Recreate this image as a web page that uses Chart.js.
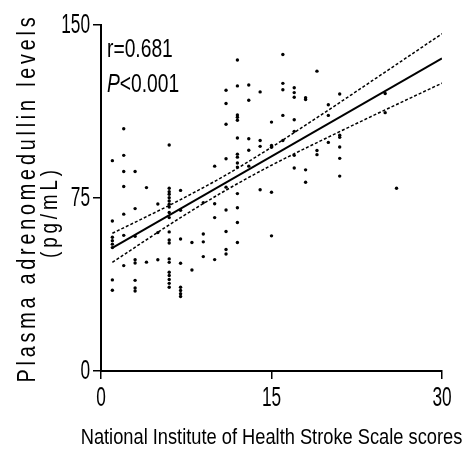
<!DOCTYPE html>
<html><head><meta charset="utf-8">
<script src="https://cdn.jsdelivr.net/npm/chart.js@4"></script>
<style>html,body{margin:0;padding:0;background:#fff}</style>
</head><body>
<canvas id="c" width="464" height="450"></canvas>
<script>
// Scatter data: NIHSS score (x) and plasma adrenomedullin (y)
const nihssScores = [
  1,1,1,1,1,1,1,1,
  2,2,2,2,2,2,2,
  3,3,3,3,3,3,3,3,
  4,4,
  5,5,5,
  6,6,6,6,6,6,6,6,6,6,6,6,6,6,6,6,6,6,6,6,
  7,7,7,7,7,7,7,7,
  8,8,
  9,9,9,9,
  10,10,10,10,
  11,11,11,11,11,11,11,11,11,
  12,12,12,12,12,12,12,12,12,12,12,12,12,12,
  13,13,13,13,13,
  14,14,14,14,
  15,15,15,15,15,
  16,16,16,16,16,
  17,17,17,17,17,17,17,
  18,18,18,18,
  19,19,19,
  20,20,20,
  21,21,21,21,21,21,
  25,25,
  26
];
const admLevels = [
  91.2,65,58,56.5,55,53.5,39.5,35,
  105,93.5,86.5,80,68,58.8,45.7,
  86.5,70.4,58.4,48.2,46.8,39.3,36,34.7,
  79.5,47.2,
  72.4,60,48.2,
  98,79.2,77.7,76.6,75.1,73.7,72.3,71.1,68.7,66.5,60.3,56.8,55.5,48.6,47.1,42.8,41.4,39.7,38,36.3,
  78.3,69.7,57.2,46.7,36.3,34.9,33.5,32.3,
  55.7,43.8,
  73,59.4,56,49.6,
  88.8,72.5,66.5,48.3,
  121.7,116,107,92,79.7,69.8,60.5,52.7,50.7,
  134.8,123.6,111,110,108.7,101,94,92.7,90.2,88.4,76.9,70.8,64.4,55.7,
  124,117.4,100.7,95.7,88.8,
  121,99.9,97.4,78.6,
  107.9,97.8,97,77.5,58.6,
  137.2,124.7,121.9,110.8,99.9,
  122.8,120.7,118.7,108.9,103.9,93.5,88,
  118.5,117.7,87.2,81.8,
  130,95.6,93.8,
  115.4,110.8,99.1,
  120.1,102.2,101.3,97.1,92.2,84.5,
  120.3,112,
  79.2
];
// Regression line end points
const fitX = [1, 30];
const fitY = [53.4, 135.5];
// 95% confidence band, read at several scores
const bandX = [1, 4, 7, 11, 15, 20, 25, 30];
const bandUpper = [59.7, 66.9, 74.3, 85.0, 97.0, 113.1, 129.6, 146.2];
const bandLower = [47.1, 56.9, 66.5, 78.4, 89.2, 101.4, 113.2, 124.8];
const xTicks = [0, 15, 30];
const yTicks = [0, 75, 150];
const statR = 'r=0.681';
const statPItalic = 'P';
const statP = '<0.001';
const xTitle = 'National Institute of Health Stroke Scale scores';
const yTitle1 = 'Plasma adrenomedullin levels';
const yTitle2 = '(pg/mL)';

const FONT = '"Liberation Sans",Arimo,Arial,sans-serif';

const pts = nihssScores.map((x, i) => ({x, y: admLevels[i]}));
const fit = fitX.map((x, i) => ({x, y: fitY[i]}));
const up = bandX.map((x, i) => ({x, y: bandUpper[i]}));
const lo = bandX.map((x, i) => ({x, y: bandLower[i]}));

// draw text condensed horizontally (narrow look of the original)
function narrowText(ctx, text, x, y, o) {
  ctx.save();
  ctx.translate(x, y);
  if (o.rotate) ctx.rotate(o.rotate);
  ctx.scale(o.h, 1);
  ctx.font = (o.italic ? 'italic ' : '') + o.size + 'px ' + FONT;
  ctx.fillStyle = '#000';
  ctx.textAlign = o.align || 'left';
  ctx.textBaseline = o.baseline || 'alphabetic';
  ctx.letterSpacing = (o.spacing || 0) + 'px';
  ctx.fillText(text, 0, 0);
  const w = ctx.measureText(text).width * o.h;
  ctx.restore();
  return w;
}

const textPlugin = {
  id: 'texts',
  afterDraw(chart) {
    const ctx = chart.ctx;
    const xs = chart.scales.x, ys = chart.scales.y;
    // tick labels from the library's scales
    xs.ticks.forEach(t => {
      narrowText(ctx, String(t.value), xs.getPixelForValue(t.value), 399, {size: 27, h: 0.64, align: 'center', baseline: 'middle'});
    });
    ys.ticks.forEach(t => {
      narrowText(ctx, String(t.value), 90, ys.getPixelForValue(t.value) + 1, {size: 27, h: 0.64, align: 'right', baseline: 'middle'});
    });
    // statistics
    narrowText(ctx, statR, 107, 57, {size: 26, h: 0.74});
    const wp = narrowText(ctx, statPItalic, 107, 92, {size: 26, h: 0.74, italic: true});
    narrowText(ctx, statP, 107 + wp, 92, {size: 26, h: 0.74});
    // axis titles
    narrowText(ctx, xTitle, (chart.chartArea.left + chart.chartArea.right) / 2, 444, {size: 22, h: 0.83, align: 'center'});
    narrowText(ctx, yTitle1, 35, 198, {size: 26, h: 0.76, align: 'center', rotate: -Math.PI / 2, spacing: 5});
    narrowText(ctx, yTitle2, 57, 212, {size: 24, h: 0.78, align: 'center', rotate: -Math.PI / 2, spacing: 5});
  }
};

new Chart(document.getElementById('c'), {
  type: 'scatter',
  data: {
    datasets: [
      {data: pts, pointRadius: 1.7, pointBackgroundColor: '#000', pointBorderWidth: 0, showLine: false},
      {data: fit, showLine: true, borderColor: '#000', borderWidth: 2, pointRadius: 0},
      {data: up, showLine: true, borderColor: '#000', borderWidth: 1.5, borderDash: [3, 2], pointRadius: 0, cubicInterpolationMode: 'monotone'},
      {data: lo, showLine: true, borderColor: '#000', borderWidth: 1.5, borderDash: [3, 2], pointRadius: 0, cubicInterpolationMode: 'monotone'}
    ]
  },
  options: {
    responsive: false,
    devicePixelRatio: 1,
    animation: false,
    layout: {padding: {top: 25, right: 22, left: 0, bottom: 0}},
    plugins: {legend: {display: false}, tooltip: {enabled: false}},
    scales: {
      x: {
        type: 'linear', min: 0, max: 30,
        afterBuildTicks: s => { s.ticks = xTicks.map(v => ({value: v})); },
        afterFit: s => { s.height = 79; },
        ticks: {display: false},
        grid: {drawOnChartArea: false, drawTicks: true, tickLength: 8, color: '#000', lineWidth: 1.5},
        border: {display: true, color: '#000', width: 2}
      },
      y: {
        min: 0, max: 150,
        afterBuildTicks: s => { s.ticks = yTicks.map(v => ({value: v})); },
        afterFit: s => { s.width = 101; },
        ticks: {display: false},
        grid: {drawOnChartArea: false, drawTicks: true, tickLength: 8, color: '#000', lineWidth: 1.5},
        border: {display: true, color: '#000', width: 2}
      }
    }
  },
  plugins: [textPlugin]
});
</script>
</body></html>
